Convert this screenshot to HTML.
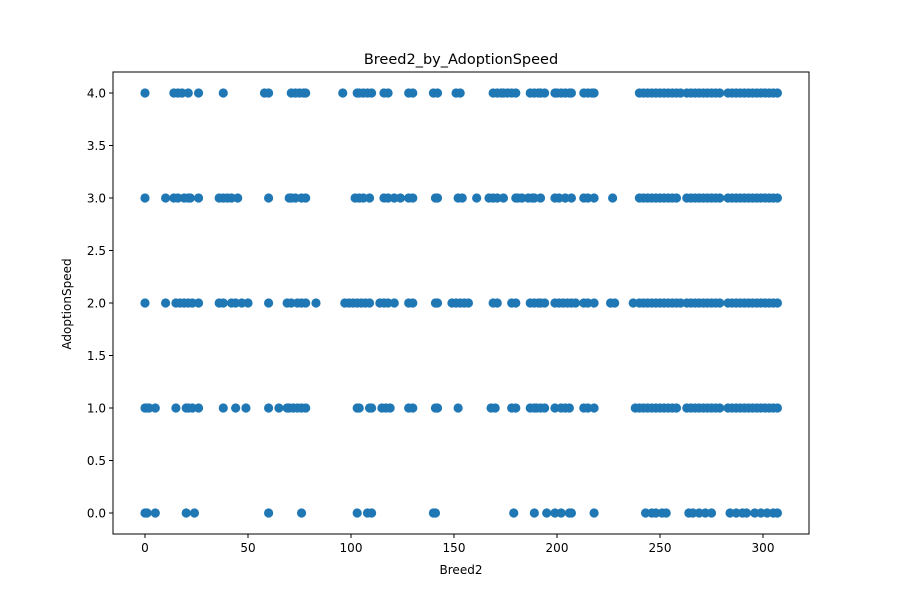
<!DOCTYPE html>
<html><head><meta charset="utf-8"><style>
html,body{margin:0;padding:0;background:#fff;}
svg{display:block;font-family:"DejaVu Sans","Liberation Sans",sans-serif;}
</style></head><body>
<svg id="chart" width="900" height="600">
<rect x="0" y="0" width="900" height="600" fill="#fff"/>
<text x="461" y="64" font-size="14.5" text-anchor="middle">Breed2_by_AdoptionSpeed</text>
<g id="marks"></g>
<g id="axes"></g>
<text x="461" y="574" font-size="12" text-anchor="middle">Breed2</text>
<text x="0" y="0" font-size="12" text-anchor="middle" transform="translate(71,304) rotate(-90)">AdoptionSpeed</text>
</svg>
<script>
const xTicks = [0,50,100,150,200,250,300];
const yTicks = [0.0,0.5,1.0,1.5,2.0,2.5,3.0,3.5,4.0];
const row4 = [0,14,16,18,21,26,38,58,60,71,73,75,77,78,96,103,104,106,108,110,116,118,128,130,140,142,151,153,169,171,173,174,176,178,180,187,189,191,192,194,199,200,202,204,206,207,213,215,217,218,240,242,244,246,248,250,252,254,256,258,260,263,265,267,269,271,273,275,277,279,283,285,287,289,291,293,295,297,299,301,303,305,307];
const row3 = [0,10,14,16,19,21,22,26,36,38,40,42,45,60,70,71,73,76,78,102,104,106,109,116,118,121,124,128,130,141,142,152,154,161,167,169,171,174,180,181,183,186,188,189,192,199,201,204,207,213,215,218,227,240,242,244,246,248,250,252,254,256,258,263,265,267,269,271,273,275,277,279,283,285,287,289,291,293,295,297,299,301,303,305,307];
const row2 = [0,10,15,17,19,21,23,26,36,38,42,44,47,50,60,69,71,74,76,78,83,97,99,101,103,105,107,109,114,116,118,121,128,130,141,142,149,151,153,155,157,169,171,178,180,187,189,191,192,194,199,201,203,205,207,209,213,215,218,226,228,237,240,242,244,246,248,250,252,254,256,258,260,263,265,267,269,271,273,275,277,279,283,285,287,289,291,293,295,297,299,301,303,305,307];
const row1 = [0,1,2,5,15,20,21,23,26,38,44,49,60,65,69,70,72,74,76,78,103,104,109,110,115,117,119,128,130,141,142,152,168,170,178,180,187,189,190,192,194,199,202,204,206,213,215,218,238,240,242,244,246,248,250,252,254,256,258,263,265,267,269,271,273,275,277,279,283,285,287,289,291,293,295,297,299,301,303,305,307];
const row0 = [0,1,5,20,24,60,76,103,108,110,140,141,179,189,195,199,202,206,207,218,243,246,248,251,253,264,266,269,272,275,284,287,290,292,296,299,302,305,307];
const rows = [row0,row1,row2,row3,row4];
const rowY = [0,1,2,3,4];

const L=113,R=809,T=72,B=534;
const X = v => 145 + v*(763-145)/300;
const Y = v => 513 - v*(513-93)/4;
const NS="http://www.w3.org/2000/svg";
const marks=document.getElementById('marks');
rows.forEach((row,ri)=>{
  row.forEach(v=>{
    const c=document.createElementNS(NS,'circle');
    c.setAttribute('cx',X(v));c.setAttribute('cy',Y(rowY[ri]));
    c.setAttribute('r',4.6);c.setAttribute('fill','#1f77b4');
    
    
    marks.appendChild(c);
  });
});
const axes=document.getElementById('axes');
const frame=document.createElementNS(NS,'rect');
frame.setAttribute('x',L);frame.setAttribute('y',T);frame.setAttribute('width',R-L);frame.setAttribute('height',B-T);
frame.setAttribute('fill','none');frame.setAttribute('stroke','#000');frame.setAttribute('stroke-width','1');


axes.appendChild(frame);
xTicks.forEach(t=>{
  const l=document.createElementNS(NS,'line');
  l.setAttribute('x1',X(t));l.setAttribute('x2',X(t));l.setAttribute('y1',B);l.setAttribute('y2',B+4);l.setAttribute('stroke','#000');
  
  
  axes.appendChild(l);
  const tx=document.createElementNS(NS,'text');
  tx.setAttribute('x',X(t));tx.setAttribute('y',B+18);tx.setAttribute('font-size','12');tx.setAttribute('text-anchor','middle');
  tx.textContent=t;
  
  
  axes.appendChild(tx);
});
yTicks.forEach(t=>{
  const l=document.createElementNS(NS,'line');
  l.setAttribute('x1',L-4);l.setAttribute('x2',L);l.setAttribute('y1',Y(t));l.setAttribute('y2',Y(t));l.setAttribute('stroke','#000');
  
  
  axes.appendChild(l);
  const tx=document.createElementNS(NS,'text');
  tx.setAttribute('x',L-7);tx.setAttribute('y',Y(t)+4.5);tx.setAttribute('font-size','12');tx.setAttribute('text-anchor','end');
  tx.textContent=t.toFixed(1);
  
  
  axes.appendChild(tx);
});
</script>
</body></html>
